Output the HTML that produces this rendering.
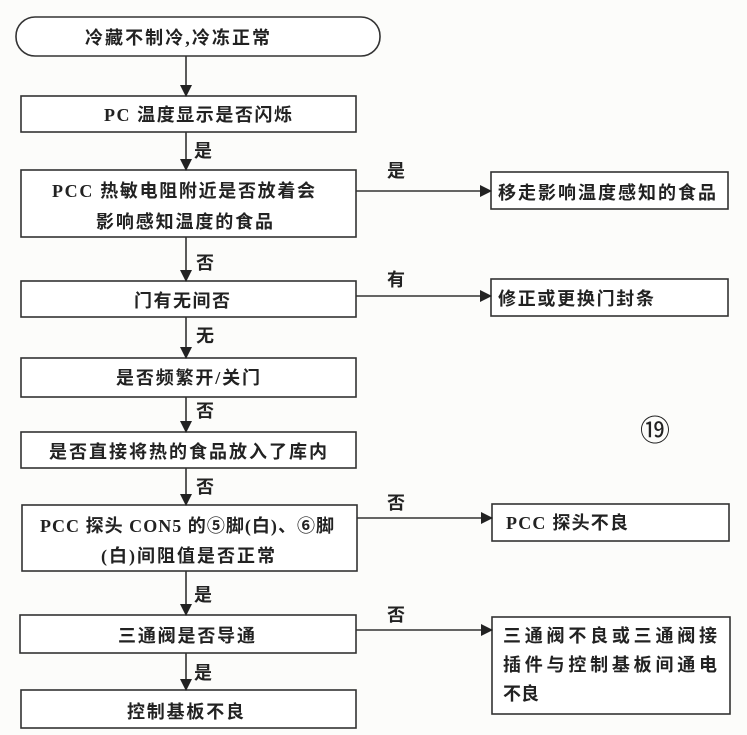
<!DOCTYPE html>
<html><head><meta charset="utf-8"><style>
body{margin:0;background:#fcfcfa;}
svg text{font-family:"Liberation Serif","Noto Sans CJK SC",serif;font-weight:bold;font-size:18px;fill:#222;}
</style></head><body>
<svg width="747" height="730" xmlns="http://www.w3.org/2000/svg">
<defs><marker id="a" markerWidth="12" markerHeight="12" refX="11" refY="6" orient="auto" markerUnits="userSpaceOnUse"><path d="M0,0 L12,6 L0,12 z" fill="#222"/></marker></defs>
<g fill="#fff" stroke="#333" stroke-width="1.6">
<rect x="16" y="17" width="364" height="39" rx="19"/>
<rect x="21" y="96" width="335" height="36"/>
<rect x="21" y="170" width="335" height="67"/>
<rect x="21" y="281" width="335" height="36"/>
<rect x="21" y="358" width="335" height="39"/>
<rect x="21" y="432" width="335" height="36"/>
<rect x="22" y="505" width="335" height="66"/>
<rect x="20" y="615" width="336" height="38"/>
<rect x="21" y="690" width="335" height="38"/>
<rect x="491" y="172" width="237" height="37"/>
<rect x="491" y="279" width="237" height="37"/>
<rect x="492" y="504" width="237" height="37"/>
<rect x="492" y="617" width="238" height="97"/>
</g>
<g stroke="#333" stroke-width="1.6" marker-end="url(#a)">
<line x1="186" y1="56" x2="186" y2="96"/>
<line x1="186" y1="132" x2="186" y2="170"/>
<line x1="186" y1="237" x2="186" y2="281"/>
<line x1="186" y1="317" x2="186" y2="358"/>
<line x1="186" y1="397" x2="186" y2="432"/>
<line x1="186" y1="468" x2="186" y2="505"/>
<line x1="186" y1="571" x2="186" y2="615"/>
<line x1="186" y1="653" x2="186" y2="690"/>
<line x1="356" y1="191" x2="491" y2="191"/>
<line x1="356" y1="296" x2="491" y2="296"/>
<line x1="357" y1="518" x2="492" y2="518"/>
<line x1="356" y1="630" x2="492" y2="630"/>
</g>
<text x="85" y="44" textLength="185" lengthAdjust="spacing">冷藏不制冷,冷冻正常</text>
<text x="104" y="121" textLength="188" lengthAdjust="spacing">PC 温度显示是否闪烁</text>
<text x="52" y="197" textLength="263" lengthAdjust="spacing">PCC 热敏电阻附近是否放着会</text>
<text x="96" y="228" textLength="177" lengthAdjust="spacing">影响感知温度的食品</text>
<text x="134" y="307" textLength="96" lengthAdjust="spacing">门有无间否</text>
<text x="116" y="384" textLength="144" lengthAdjust="spacing">是否频繁开/关门</text>
<text x="49" y="458" textLength="278" lengthAdjust="spacing">是否直接将热的食品放入了库内</text>
<text x="40" y="532" textLength="294" lengthAdjust="spacing">PCC 探头 CON5 的⑤脚(白)、⑥脚</text>
<text x="101" y="562" textLength="174" lengthAdjust="spacing">(白)间阻值是否正常</text>
<text x="118" y="642" textLength="137" lengthAdjust="spacing">三通阀是否导通</text>
<text x="127" y="718" textLength="117" lengthAdjust="spacing">控制基板不良</text>
<text x="498" y="199" textLength="218" lengthAdjust="spacing">移走影响温度感知的食品</text>
<text x="498" y="305" textLength="156" lengthAdjust="spacing">修正或更换门封条</text>
<text x="506" y="529" textLength="122" lengthAdjust="spacing">PCC 探头不良</text>
<text x="503" y="642" textLength="214" lengthAdjust="spacing">三通阀不良或三通阀接</text>
<text x="503" y="671" textLength="214" lengthAdjust="spacing">插件与控制基板间通电</text>
<text x="503" y="700">不良</text>
<text x="194" y="157">是</text>
<text x="196" y="269">否</text>
<text x="196" y="342">无</text>
<text x="196" y="417">否</text>
<text x="196" y="493">否</text>
<text x="194" y="601">是</text>
<text x="194" y="679">是</text>
<text x="387" y="177">是</text>
<text x="387" y="286">有</text>
<text x="387" y="509">否</text>
<text x="387" y="621">否</text>
<text x="640" y="441" style="font-size:30px;font-weight:normal">⑲</text>
</svg>
</body></html>
